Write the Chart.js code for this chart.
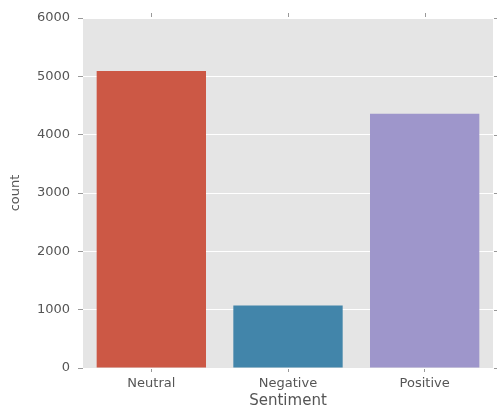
<!DOCTYPE html>
<html>
<head>
<meta charset="utf-8">
<script src="https://cdn.jsdelivr.net/npm/chart.js@4/dist/chart.umd.min.js"></script>
<style>
  html, body { margin: 0; padding: 0; background: #ffffff; }
  #wrap { width: 497px; height: 410px; }
</style>
</head>
<body>
<div id="wrap"><canvas id="grafiek" width="497" height="410"></canvas></div>
<script>
// data
const categorieen = ["Neutral", "Negative", "Positive"];
const aantallen = [5090, 1070, 4360];
const kleuren = ["#CC5845", "#4285AA", "#9E96CB"];
const yTicks = [0, 1000, 2000, 3000, 4000, 5000, 6000];

// draws the small tick marks on the top and right side, like matplotlib
const randTicks = {
    id: 'randTicks',
    afterDraw(chart) {
        const ctx = chart.ctx;
        const area = chart.chartArea;
        const x = chart.scales.x;
        const y = chart.scales.y;
        ctx.save();
        ctx.strokeStyle = '#999999';
        ctx.lineWidth = 1;
        ctx.beginPath();
        categorieen.forEach((c, i) => {
            const px = Math.round(x.getPixelForValue(i)) + 0.5;
            ctx.moveTo(px, area.top - 1);
            ctx.lineTo(px, area.top - 5);
        });
        yTicks.forEach(v => {
            const py = Math.round(y.getPixelForValue(v)) + 0.5;
            ctx.moveTo(area.right + 1, py);
            ctx.lineTo(area.right + 4, py);
        });
        ctx.stroke();
        ctx.restore();
    }
};

// grey plot background
const achtergrond = {
    id: 'achtergrond',
    beforeDraw(chart) {
        const a = chart.chartArea;
        chart.ctx.save();
        chart.ctx.fillStyle = '#E5E5E5';
        chart.ctx.fillRect(a.left, a.top, a.right - a.left, a.bottom - a.top);
        chart.ctx.restore();
    }
};

new Chart(document.getElementById('grafiek'), {
    type: 'bar',
    data: {
        labels: categorieen,
        datasets: [{
            label: 'count',
            data: aantallen,
            backgroundColor: kleuren,
            borderWidth: 0,
            categoryPercentage: 1.0,
            barPercentage: 0.8
        }]
    },
    options: {
        responsive: false,
        animation: false,
        layout: { padding: { left: 0, right: 4, top: 18, bottom: 0 } },
        plugins: {
            legend: { display: false },
            tooltip: { enabled: false }
        },
        scales: {
            x: {
                afterFit: s => { s.height = 42; },
                border: { display: false },
                grid: {
                    display: true,
                    color: 'rgba(0,0,0,0)',
                    tickColor: '#999999',
                    tickLength: 4,
                    offset: false
                },
                ticks: {
                    color: '#555555',
                    padding: 4,
                    font: { family: 'DejaVu Sans', size: 13 }
                },
                title: {
                    display: true,
                    text: 'Sentiment',
                    color: '#555555',
                    padding: { top: 0, bottom: 0 },
                    font: { family: 'DejaVu Sans', size: 15 }
                }
            },
            y: {
                min: 0,
                max: 6000,
                afterFit: s => { s.width = 83; },
                afterBuildTicks: s => { s.ticks = yTicks.map(v => ({ value: v })); },
                border: { display: false },
                grid: {
                    color: '#FFFFFF',
                    lineWidth: 1,
                    tickColor: '#999999',
                    tickLength: 5
                },
                ticks: {
                    color: '#555555',
                    padding: 8,
                    callback: v => String(v),
                    font: { family: 'DejaVu Sans', size: 13 }
                },
                title: {
                    display: true,
                    text: 'count',
                    color: '#555555',
                    padding: { top: 8, bottom: 4 },
                    font: { family: 'DejaVu Sans', size: 13 }
                }
            }
        }
    },
    plugins: [achtergrond, randTicks]
});
</script>
</body>
</html>
